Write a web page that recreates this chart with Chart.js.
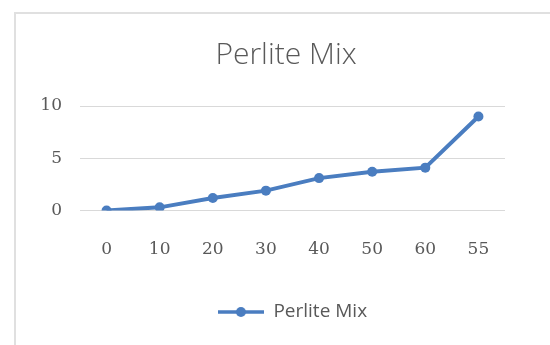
<!DOCTYPE html>
<html>
<head>
<meta charset="utf-8">
<script src="https://cdn.jsdelivr.net/npm/chart.js@4/dist/chart.umd.min.js"></script>
<style>
  html, body { margin: 0; padding: 0; background: #ffffff; }
  #wrap { position: relative; width: 550px; height: 345px; overflow: hidden; }
  #frame {
    position: absolute; left: 14px; top: 12px; width: 600px; height: 400px;
    border-left: 2px solid #e0e0e0; border-top: 2px solid #e0e0e0;
  }
  #chart { position: absolute; left: 0; top: 0; }
</style>
</head>
<body>
<div id="wrap">
  <div id="frame"></div>
  <canvas id="chart" width="550" height="345"></canvas>
</div>
<script>
// Perlite Mix readings per category
const categories = ['0', '10', '20', '30', '40', '50', '60', '55'];
const perliteMix = [0, 0.3, 1.2, 1.9, 3.1, 3.7, 4.1, 9.0];
const yTickValues = [0, 5, 10];

const seriesName = 'Perlite Mix';
const lineColor = '#4a7dc0';
const textColor = '#595959';

// legend symbol: a short line with a dot in the middle
function legendSymbol() {
  const c = document.createElement('canvas');
  c.width = 46; c.height = 12;
  const g = c.getContext('2d');
  g.strokeStyle = lineColor;
  g.lineWidth = 3.5;
  g.beginPath(); g.moveTo(0, 6); g.lineTo(46, 6); g.stroke();
  g.fillStyle = lineColor;
  g.beginPath(); g.arc(23, 6, 5, 0, Math.PI * 2); g.fill();
  return c;
}

new Chart(document.getElementById('chart'), {
  type: 'line',
  data: {
    labels: categories,
    datasets: [{
      label: seriesName,
      data: perliteMix,
      borderColor: lineColor,
      backgroundColor: lineColor,
      borderWidth: 4,
      pointRadius: 5,
      pointBackgroundColor: lineColor,
      pointBorderColor: lineColor,
      pointBorderWidth: 0,
      tension: 0,
      fill: false,
      yAxisID: 'y'
    }]
  },
  options: {
    responsive: false,
    animation: false,
    devicePixelRatio: 1,
    layout: { padding: { top: 0, left: 22, right: 0, bottom: 13.5 } },
    plugins: {
      title: {
        display: true,
        text: seriesName,
        color: textColor,
        font: { family: 'Open Sans', size: 30, weight: '300' },
        padding: { top: 37, bottom: 33 }
      },
      legend: {
        position: 'bottom',
        fullSize: false,
        labels: {
          usePointStyle: true,
          pointStyle: legendSymbol(),
          pointStyleWidth: 46,
          color: textColor,
          font: { family: 'Open Sans', size: 19 },
          padding: 10
        }
      },
      tooltip: { enabled: false }
    },
    scales: {
      x: {
        offset: true,
        grid: { display: false, drawTicks: false },
        border: { display: false },
        ticks: {
          color: textColor,
          font: { family: 'DejaVu Serif', size: 17 },
          padding: 29,
          maxRotation: 0
        },
        afterFit: (scale) => { scale.height = 82; }
      },
      y: {
        position: 'left',
        min: 0,
        max: 10,
        grid: { color: '#d9d9d9', lineWidth: 1, drawTicks: false },
        border: { display: false },
        ticks: {
          color: textColor,
          font: { family: 'DejaVu Serif', size: 17 },
          padding: 18
        },
        afterBuildTicks: (scale) => { scale.ticks = yTickValues.map(v => ({ value: v })); },
        afterFit: (scale) => { scale.width = 58; }
      },
      // empty right-hand margin beside the plot
      yRight: {
        type: 'linear',
        position: 'right',
        display: true,
        grid: { display: false, drawTicks: false },
        border: { display: false },
        ticks: { display: false },
        afterFit: (scale) => { scale.width = 45; }
      }
    }
  }
});
</script>
</body>
</html>
